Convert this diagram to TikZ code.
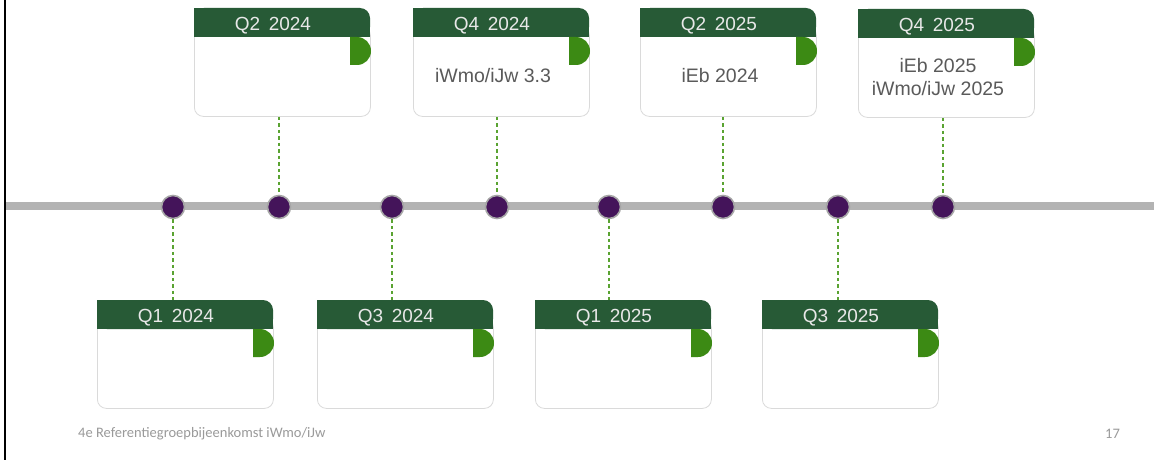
\documentclass[tikz,border=0pt]{standalone}
\usepackage{fontspec}
\setmainfont{Liberation Sans}
\newfontfamily\footfont{Carlito}
\definecolor{hdrgreen}{HTML}{275A36}
\definecolor{tabgreen}{HTML}{3C8A14}
\definecolor{conngreen}{HTML}{5AA332}
\definecolor{dotpurple}{HTML}{44145A}
\definecolor{linegray}{HTML}{B3B3B3}
\definecolor{cardline}{HTML}{DADADA}
\definecolor{bodytext}{HTML}{5A5A5A}
\definecolor{hdrtext}{HTML}{E8E8E8}
\definecolor{foottext}{HTML}{9A9A9A}
\tikzset{
  cardbody/.style={draw=cardline, line width=0.8pt, fill=white, rounded corners=9pt,
    minimum width=176pt, minimum height=90pt, inner sep=0pt, anchor=north west},
  hdrlabel/.style={text=hdrtext, font=\fontsize{19}{22}\selectfont, inner sep=0pt},
  bodylabel/.style={text=bodytext, font=\fontsize{19.5}{23}\selectfont, align=center, inner sep=0pt},
  tdot/.style={circle, fill=dotpurple, draw=gray!70, line width=1.6pt, minimum size=23pt, inner sep=0pt},
  conn/.style={draw=conngreen, line width=1.1pt, dash pattern=on 3.5pt off 3pt},
  footlabel/.style={text=foottext, font=\footfont\fontsize{14.5}{16}\selectfont, inner sep=0pt}
}
% #1 name, #2 left x, #3 top y, #4 title, #5 body text
\newcommand\tlcard[5]{%
  \node[cardbody] (#1) at ({#2},{#3+18}) {};
  \fill[hdrgreen, rounded corners=10pt] ({#2},{#3}) rectangle ({#2+176},{#3+29});
  \fill[hdrgreen] ({#2},{#3}) rectangle ({#2+160},{#3+29});
  \fill[hdrgreen] ({#2},{#3+14}) rectangle ({#2+176},{#3+29});
  \fill[tabgreen] ({#2+156},{#3+29}) -- ({#2+163},{#3+29})
     arc[start angle=90, end angle=-90, radius=14pt] -- ({#2+156},{#3+57}) -- cycle;
  \coordinate (#1top) at ({#2+79},{#3});
  \node[hdrlabel] (#1h) at ({#2+79},{#3+17.5}) {#4};
  \node[bodylabel] (#1t) at ({#2+80},{#3+68}) {#5};
}
\begin{document}
\begin{tikzpicture}[x=1pt, y=-1pt]
\useasboundingbox (0,0) rectangle (1154,460);
\fill[white] (0,0) rectangle (1154,460);
% left border
\draw[black, line width=2.6pt] (5,0) -- (5,460);
% timeline
\draw[linegray, line width=8pt] (6.3,206) -- (1154,206);
% dots
\foreach \n/\x in {d1/173, d2/279, d3/392, d4/497, d5/609, d6/723, d7/838, d8/943}
  \node[tdot] (\n) at (\x,207) {};
% top cards
\tlcard{c2}{194}{8}{Q2\hspace{0.45em}2024}{}
\tlcard{c4}{413}{8}{Q4\hspace{0.45em}2024}{iWmo/iJw 3.3}
\tlcard{c6}{640}{8}{Q2\hspace{0.45em}2025}{iEb 2024}
\tlcard{c8}{858}{9}{Q4\hspace{0.45em}2025}{iEb 2025\\iWmo/iJw 2025}
% bottom cards
\tlcard{c1}{97}{300}{Q1\hspace{0.45em}2024}{}
\tlcard{c3}{317}{300}{Q3\hspace{0.45em}2024}{}
\tlcard{c5}{535}{300}{Q1\hspace{0.45em}2025}{}
\tlcard{c7}{762}{300}{Q3\hspace{0.45em}2025}{}
% connectors
\draw[conn] (d2 |- c2.south) -- (d2.north);
\draw[conn] (d4 |- c4.south) -- (d4.north);
\draw[conn] (d6 |- c6.south) -- (d6.north);
\draw[conn] (d8 |- c8.south) -- (d8.north);
\draw[conn] (d1.south) -- (d1 |- c1top);
\draw[conn] (d3.south) -- (d3 |- c3top);
\draw[conn] (d5.south) -- (d5 |- c5top);
\draw[conn] (d7.south) -- (d7 |- c7top);
% footer
\node[footlabel, anchor=west] (foot) at (78,434) {4e Referentiegroepbijeenkomst iWmo/iJw};
\node[footlabel, anchor=west] (pnum) at (1105,434) {17};
\end{tikzpicture}
\end{document}
